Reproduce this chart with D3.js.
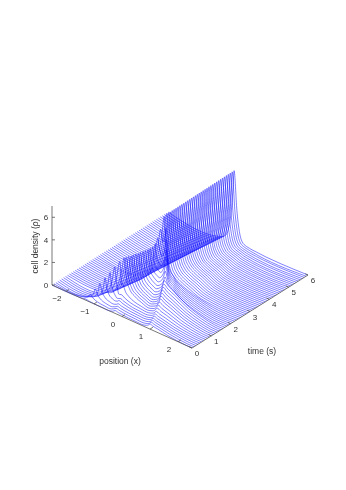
<!DOCTYPE html>
<html>
<head>
<meta charset="utf-8">
<script src="https://cdn.jsdelivr.net/npm/d3@7"></script>
<style>
  html, body { margin: 0; padding: 0; background: #fff; }
  svg { display: block; will-change: transform; }
  text { font-family: "Liberation Sans", Arial, sans-serif; fill: #333; }
</style>
</head>
<body>
<div id="chart"></div>
<script>
// tick labels
const xTicks = [-2, -1, 0, 1, 2];
const timeTicks = [0, 1, 2, 3, 4, 5, 6];
const densityTicks = [0, 2, 4, 6];

// one time value per drawn slice
const sliceTimes = [0, .1, .2, .3, .4, .5, .6, .7, .8, .9, 1, 1.1, 1.2, 1.3, 1.4, 1.5, 1.6, 1.7, 1.8, 1.9,
  2, 2.1, 2.2, 2.3, 2.4, 2.5, 2.6, 2.7, 2.8, 2.9, 3, 3.1, 3.2, 3.3, 3.4, 3.5, 3.6, 3.7, 3.8, 3.9,
  4, 4.1, 4.2, 4.3, 4.4, 4.5, 4.6, 4.7, 4.8, 4.9, 5, 5.1, 5.2, 5.3, 5.4, 5.5, 5.6, 5.7, 5.8, 5.9, 6];

const sliceProfiles = [
  [-2.5,0,-1.57,0,-1.45,.02,-1.37,.06,-1.32,.1,-1.19,.05,-1.01,.02,-.74,.01,-.43,.01,-.33,.1,-.25,.25,-.13,.2,0,.17,.22,.13,.5,.11,.75,.1,.88,.2,.95,.32,1,.45,1.1,.38,1.28,.31,1.63,.14,1.95,.05,2.26,0,2.5,0],
  [-2.5,0,-1.47,0,-1.34,.1,-1.26,.28,-1.21,.5,-1.09,.27,-.94,.12,-.71,.06,-.45,.06,-.36,.17,-.28,.3,-.16,.25,-.03,.2,.17,.16,.42,.13,.72,.12,.845,.21,.92,.33,.97,.47,1.08,.4,1.26,.32,1.62,.15,1.94,.05,2.27,0,2.5,0],
  [-2.5,0,-1.37,0,-1.24,.2,-1.15,.55,-1.1,1,-1,.54,-.87,.26,-.68,.13,-.47,.12,-.38,.22,-.31,.35,-.19,.29,-.06,.24,.14,.19,.39,.16,.69,.15,.815,.24,.89,.36,.94,.5,1.05,.43,1.24,.34,1.61,.16,1.94,.06,2.27,0,2.5,0],
  [-2.5,0,-1.26,0,-1.13,.3,-1.05,.82,-1,1.5,-.92,.84,-.81,.44,-.65,.26,-.49,.22,-.41,.3,-.35,.42,-.23,.35,-.1,.29,.1,.23,.35,.19,.65,.18,.775,.27,.85,.39,.9,.53,1.01,.45,1.2,.36,1.58,.16,1.93,.06,2.27,0,2.5,0],
  [-2.5,0,-1.2,0,-1.04,.4,-.94,1.1,-.88,2,-.82,1.18,-.74,.68,-.61,.45,-.5,.38,-.43,.45,-.39,.55,-.27,.45,-.14,.36,.06,.28,.31,.22,.61,.2,.74,.29,.82,.42,.87,.57,.99,.48,1.18,.39,1.57,.18,1.92,.06,2.27,0,2.5,0],
  [-2.5,0,-1.19,0,-.98,.5,-.85,1.38,-.77,2.5,-.73,1.6,-.67,1.06,-.58,.65,-.52,.5,-.46,.54,-.41,.6,-.29,.5,-.16,.41,.03,.3,.27,.26,.57,.24,.7,.34,.78,.47,.83,.62,.95,.53,1.15,.42,1.55,.19,1.91,.07,2.27,0,2.5,0],
  [-2.5,0,-1.18,0,-.92,.6,-.77,1.65,-.67,3,-.64,2.25,-.6,1.5,-.56,1,-.53,.75,-.49,.76,-.44,.8,-.32,.64,-.2,.51,0,.39,.24,.32,.53,.28,.665,.39,.75,.54,.8,.72,.92,.61,1.13,.49,1.54,.22,1.91,.08,2.28,0,2.5,0],
  [-2.5,0,-1.17,0,-.86,.7,-.68,1.93,-.56,3.5,-.52,2.3,-.5,1.5,-.47,1.6,-.35,1,-.23,.73,-.04,.5,.2,.38,.49,.32,.63,.45,.71,.64,.77,.85,.9,.72,1.11,.58,1.53,.26,1.9,.09,2.28,0,2.5,0],
  [-2.5,0,-1.156,0,-.98,.15,-.82,.53,-.66,1.52,-.55,2.77,-.48,3.8,-.39,2.01,-.28,1.25,-.09,.81,.15,.53,.45,.36,.595,.51,.68,.73,.74,.97,.87,.82,1.08,.66,1.51,.3,1.9,.11,2.29,0,2.5,0],
  [-2.5,0,-1.145,0,-.97,.15,-.81,.53,-.65,1.5,-.54,2.74,-.47,3.75,-.38,2.01,-.28,1.27,-.1,.84,.13,.57,.41,.4,.56,.58,.65,.82,.71,1.1,.84,.94,1.06,.75,1.5,.34,1.9,.12,2.29,0,2.5,0],
  [-2.5,0,-1.133,0,-.955,.15,-.79,.53,-.63,1.5,-.52,2.74,-.45,3.75,-.37,2.03,-.27,1.3,-.11,.87,.11,.61,.37,.44,.525,.64,.62,.91,.68,1.23,.82,1.05,1.04,.84,1.49,.38,1.9,.14,2.3,0,2.5,0],
  [-2.5,0,-1.121,0,-.94,.15,-.775,.52,-.61,1.48,-.5,2.7,-.43,3.7,-.35,2.03,-.26,1.32,-.11,.9,.09,.64,.33,.48,.48,.69,.57,.99,.63,1.33,.77,1.13,1,.9,1.46,.41,1.87,.15,2.29,0,2.5,0],
  [-2.5,0,-1.11,0,-.93,.15,-.765,.52,-.6,1.48,-.49,2.7,-.42,3.7,-.35,2.05,-.26,1.35,-.12,.93,.06,.68,.29,.52,.44,.75,.53,1.07,.59,1.43,.73,1.22,.97,.97,1.44,.44,1.86,.16,2.28,0,2.5,0],
  [-2.5,0,-1.098,0,-.92,.15,-.75,.52,-.58,1.48,-.47,2.7,-.4,3.7,-.34,2.08,-.26,1.39,-.13,.99,.04,.74,.25,.58,.4,.82,.48,1.16,.54,1.55,.68,1.32,.92,1.05,1.4,.48,1.84,.17,2.27,0,2.5,0],
  [-2.5,0,-1.086,0,-.9,.15,-.73,.51,-.56,1.46,-.45,2.66,-.38,3.65,-.32,2.09,-.25,1.43,-.13,1.04,.02,.8,.21,.65,.355,.9,.44,1.25,.5,1.65,.65,1.4,.89,1.12,1.38,.51,1.82,.18,2.26,0,2.5,0],
  [-2.5,0,-1.075,0,-.89,.15,-.72,.51,-.55,1.46,-.44,2.66,-.37,3.65,-.32,2.14,-.25,1.5,-.14,1.13,0,.9,.17,.75,.31,1,.39,1.36,.45,1.76,.6,1.5,.85,1.2,1.35,.55,1.8,.19,2.25,0,2.5,0],
  [-2.5,0,-1.063,0,-.88,.15,-.71,.51,-.53,1.46,-.42,2.66,-.35,3.65,-.3,2.21,-.24,1.6,-.15,1.24,-.02,1.02,.13,.88,.265,1.14,.35,1.49,.4,1.9,.55,1.6,.8,1.25,1.3,.55,1.75,.2,2.2,0,2.5,0],
  [-2.5,0,-1.051,0,-.86,.15,-.69,.51,-.52,1.46,-.4,2.66,-.33,3.65,-.29,2.28,-.24,1.7,-.15,1.36,-.04,1.15,.1,1.02,.23,1.28,.31,1.65,.36,2.07,.46,1.6,.66,1.25,.86,.85,1.16,.52,1.61,.2,2.06,0,2.5,0],
  [-2.5,0,-1.039,0,-.85,.15,-.67,.51,-.5,1.46,-.38,2.66,-.31,3.65,-.27,2.38,-.23,1.84,-.15,1.52,-.06,1.32,.06,1.2,.18,1.5,.25,1.92,.3,2.4,.4,1.7,.6,1.25,.8,.85,1.1,.52,1.55,.2,2,0,2.5,0],
  [-2.5,0,-1.028,0,-.84,.15,-.66,.51,-.49,1.46,-.37,2.66,-.3,3.65,-.27,2.5,-.23,2,-.16,1.7,-.07,1.53,.03,1.42,.135,1.77,.2,2.25,.24,2.8,.34,1.75,.54,1.25,.74,.85,1.04,.52,1.49,.2,1.94,0,2.5,0],
  [-2.5,0,-1.016,0,-.825,.15,-.65,.52,-.47,1.48,-.35,2.7,-.28,3.7,-.25,2.7,-.22,2.25,-.16,2,-.09,1.85,0,1.75,.09,2.14,.144,2.68,.18,3.3,.28,1.8,.48,1.25,.68,.85,.98,.52,1.43,.2,1.88,0,2.5,0],
  [-2.5,0,-1.004,0,-.81,.16,-.63,.55,-.45,1.56,-.33,2.85,-.26,3.9,-.24,3.1,-.21,2.7,-.16,2.4,-.04,2.2,.04,2.6,.09,3.16,.12,3.8,.22,1.85,.42,1.25,.62,.85,.92,.52,1.37,.2,1.8,0,2.5,0],
  [-2.5,0,-.993,0,-.8,.17,-.62,.6,-.43,1.72,-.32,3.14,-.24,4.3,-.2,3.6,-.14,3.1,-.08,2.9,-.015,3.3,.02,3.9,.05,4.5,.15,1.9,.35,1.25,.55,.85,.85,.52,1.3,.2,1.7,0,2.5,0],
  [-2.5,0,-.981,0,-.78,.2,-.6,.7,-.41,2,-.29,3.65,-.21,5,-.12,4,-.07,4.4,-.04,4.8,-.02,5.3,.08,2.4,.28,1.25,.48,.85,.78,.52,1.23,.2,1.65,0,2.5,0],
  [-2.5,0,-.969,0,-.75,.24,-.56,.85,-.37,2.44,-.23,4.45,-.15,6.1,-.07,3,.03,1.7,.17,1.23,.37,.85,.67,.52,1.12,.2,1.57,0,2.5,0],
  [-2.5,0,-.958,0,-.745,.25,-.549,.88,-.353,2.5,-.222,4.56,-.14,6.2,-.04,3,.06,1.7,.16,1.23,.36,.85,.66,.52,1,.17,1.45,0,2.5,0],
  [-2.5,0,-.946,0,-.736,.25,-.543,.88,-.35,2.5,-.221,4.56,-.14,6.2,-.04,3,.06,1.7,.16,1.23,.36,.85,.66,.52,.99,.17,1.43,0,2.5,0],
  [-2.5,0,-.934,0,-.727,.25,-.537,.88,-.347,2.5,-.219,4.56,-.14,6.2,-.04,3,.06,1.7,.16,1.23,.36,.85,.66,.52,.99,.16,1.41,0,2.5,0],
  [-2.5,0,-.922,0,-.718,.25,-.531,.88,-.344,2.5,-.218,4.56,-.14,6.21,-.04,3,.06,1.7,.16,1.23,.36,.85,.66,.52,.98,.16,1.39,0,2.5,0],
  [-2.5,0,-.911,0,-.71,.25,-.526,.88,-.341,2.5,-.217,4.56,-.14,6.21,-.04,3,.06,1.7,.16,1.23,.36,.85,.66,.52,.98,.16,1.37,0,2.5,0],
  [-2.5,0,-.899,0,-.701,.25,-.52,.88,-.338,2.5,-.216,4.56,-.14,6.21,-.04,3,.06,1.7,.16,1.23,.36,.85,.66,.52,.97,.15,1.35,0,2.5,0],
  [-2.5,0,-.887,0,-.692,.25,-.514,.88,-.335,2.5,-.215,4.56,-.14,6.22,-.04,3,.06,1.7,.16,1.23,.36,.85,.66,.52,.97,.15,1.34,0,2.5,0],
  [-2.5,0,-.876,0,-.684,.25,-.508,.88,-.332,2.5,-.214,4.56,-.14,6.22,-.04,3,.06,1.7,.16,1.23,.36,.85,.66,.52,.96,.15,1.32,0,2.5,0],
  [-2.5,0,-.864,0,-.675,.25,-.502,.88,-.329,2.5,-.212,4.56,-.14,6.22,-.04,3,.06,1.7,.16,1.23,.36,.85,.66,.52,.96,.15,1.31,0,2.5,0],
  [-2.5,0,-.852,0,-.666,.25,-.496,.88,-.326,2.5,-.211,4.56,-.14,6.22,-.04,3,.06,1.68,.16,1.19,.36,.82,.65,.5,.94,.14,1.28,0,2.5,0],
  [-2.5,0,-.841,0,-.658,.25,-.491,.88,-.323,2.5,-.21,4.56,-.14,6.23,-.04,3,.06,1.66,.16,1.17,.36,.8,.64,.49,.92,.14,1.25,0,2.5,0],
  [-2.5,0,-.829,0,-.649,.25,-.485,.88,-.32,2.5,-.209,4.56,-.14,6.23,-.04,3,.06,1.63,.16,1.13,.35,.77,.63,.47,.91,.13,1.22,0,2.5,0],
  [-2.5,0,-.817,0,-.641,.25,-.479,.88,-.316,2.5,-.208,4.56,-.14,6.23,-.04,3,.06,1.61,.16,1.1,.35,.73,.62,.45,.89,.13,1.19,0,2.5,0],
  [-2.5,0,-.805,0,-.632,.25,-.473,.88,-.313,2.5,-.207,4.56,-.14,6.24,-.04,3,.06,1.59,.16,1.06,.35,.7,.61,.43,.87,.12,1.16,0,2.5,0],
  [-2.5,0,-.794,0,-.624,.25,-.467,.88,-.31,2.5,-.205,4.56,-.14,6.24,-.04,3,.06,1.57,.16,1.04,.35,.68,.61,.41,.85,.12,1.13,0,2.5,0],
  [-2.5,0,-.782,0,-.615,.25,-.461,.88,-.307,2.5,-.204,4.56,-.14,6.24,-.04,3,.06,1.54,.15,1,.34,.65,.6,.39,.83,.11,1.1,0,2.5,0],
  [-2.5,0,-.77,0,-.606,.25,-.455,.88,-.304,2.5,-.203,4.56,-.14,6.25,-.04,3,.06,1.52,.15,.97,.34,.62,.59,.37,.81,.11,1.07,0,2.5,0],
  [-2.5,0,-.759,0,-.598,.25,-.45,.88,-.301,2.5,-.202,4.56,-.14,6.25,-.04,3,.06,1.5,.15,.94,.34,.6,.58,.36,.8,.1,1.04,0,2.5,0],
  [-2.5,0,-.747,0,-.589,.25,-.444,.88,-.298,2.5,-.201,4.56,-.14,6.25,-.04,3,.06,1.48,.15,.9,.34,.57,.57,.34,.78,.1,1.01,0,2.5,0],
  [-2.5,0,-.735,0,-.58,.25,-.438,.88,-.295,2.5,-.2,4.56,-.14,6.26,-.04,3,.06,1.45,.15,.87,.34,.53,.56,.32,.76,.09,.98,0,2.5,0],
  [-2.5,0,-.724,0,-.572,.25,-.432,.88,-.292,2.5,-.198,4.56,-.14,6.26,-.04,3,.06,1.44,.15,.84,.33,.51,.55,.3,.74,.09,.95,0,2.5,0],
  [-2.5,0,-.712,0,-.563,.25,-.426,.88,-.289,2.5,-.197,4.56,-.14,6.26,-.04,3,.06,1.41,.15,.81,.33,.48,.54,.28,.72,.08,.92,0,2.5,0],
  [-2.5,0,-.7,0,-.554,.25,-.42,.88,-.286,2.5,-.196,4.56,-.14,6.27,-.04,3,.05,1.39,.15,.77,.33,.45,.53,.27,.7,.08,.89,0,2.5,0],
  [-2.5,0,-.688,0,-.545,.25,-.414,.88,-.283,2.5,-.195,4.56,-.14,6.27,-.04,3,.05,1.36,.15,.74,.33,.42,.52,.25,.68,.07,.86,0,2.5,0],
  [-2.5,0,-.677,0,-.537,.25,-.409,.88,-.28,2.5,-.194,4.56,-.14,6.27,-.04,3,.05,1.35,.15,.71,.32,.4,.51,.23,.67,.07,.83,0,2.5,0],
  [-2.5,0,-.665,0,-.528,.25,-.403,.88,-.277,2.5,-.193,4.56,-.14,6.28,-.04,3,.05,1.32,.15,.68,.32,.36,.5,.21,.65,.06,.8,0,2.5,0],
  [-2.5,0,-.653,0,-.519,.25,-.397,.88,-.274,2.5,-.191,4.56,-.14,6.28,-.04,2.95,.05,1.3,.15,.64,.32,.33,.49,.19,.63,.06,.77,0,2.5,0],
  [-2.5,0,-.642,0,-.511,.25,-.391,.88,-.271,2.5,-.19,4.56,-.14,6.28,-.04,2.95,.05,1.28,.15,.61,.32,.31,.485,.18,.61,.05,.74,0,2.5,0],
  [-2.5,0,-.63,0,-.502,.25,-.385,.88,-.268,2.5,-.189,4.56,-.14,6.29,-.04,2.95,.05,1.26,.15,.58,.32,.28,.475,.16,.59,.05,.71,0,2.5,0],
  [-2.5,0,-.618,0,-.493,.25,-.379,.88,-.265,2.5,-.188,4.56,-.14,6.29,-.04,2.95,.05,1.23,.14,.54,.31,.25,.465,.14,.57,.04,.68,0,2.5,0],
  [-2.5,0,-.607,0,-.485,.25,-.374,.88,-.262,2.5,-.187,4.56,-.14,6.29,-.04,2.9,.05,1.21,.14,.52,.31,.23,.46,.12,.555,.04,.65,0,2.5,0],
  [-2.5,0,-.595,0,-.476,.25,-.368,.88,-.259,2.5,-.186,4.56,-.14,6.3,-.04,2.9,.05,1.19,.14,.48,.31,.2,.45,.1,.535,.03,.62,0,2.5,0],
  [-2.5,0,-.583,0,-.467,.25,-.362,.88,-.256,2.5,-.184,4.56,-.14,6.3,-.04,2.9,.05,1.17,.14,.45,.31,.16,.44,.08,.515,.03,.59,0,2.5,0],
  [-2.5,0,-.571,0,-.459,.25,-.356,.88,-.252,2.5,-.183,4.56,-.14,6.3,-.04,2.9,.05,1.14,.14,.41,.3,.13,.43,.06,.495,.02,.56,0,2.5,0],
  [-2.5,0,-.56,0,-.45,.25,-.35,.88,-.25,2.5,-.182,4.56,-.14,6.3,-.04,2.9,.05,1.12,.14,.39,.3,.11,.42,.05,.48,.02,.53,0,2.5,0],
  [-2.5,0,-.548,0,-.441,.25,-.344,.88,-.246,2.5,-.181,4.56,-.14,6.3,-.04,2.9,.05,1.1,.14,.35,.3,.08,.41,.03,.46,.01,.5,0,2.5,0]
];

const width = 346, height = 490;
const originX = 52, originY = 285;

const svg = d3.select("#chart").append("svg")
  .attr("width", width)
  .attr("height", height);

// oblique projection: each data axis gets a screen scale for x and for y
const xToPx = d3.scaleLinear().domain([-2.5, 2.5]).range([0, 140]);
const xToPy = d3.scaleLinear().domain([-2.5, 2.5]).range([0, 63]);
const tToPx = d3.scaleLinear().domain([0, 6]).range([0, 116]);
const tToPy = d3.scaleLinear().domain([0, 6]).range([0, -73]);
const zToPy = d3.scaleLinear().domain([0, 7]).range([0, -79]);

const px = (x, t) => originX + xToPx(x) + tToPx(t);
const py = (x, t, z) => originY + xToPy(x) + tToPy(t) + zToPy(z);

const axisColor = "#555";

// surface slices
const line = d3.line()
  .x(d => px(d[0], d[2]))
  .y(d => py(d[0], d[2], d[1]))
  .curve(d3.curveMonotoneX);

svg.append("g")
  .selectAll("path")
  .data(sliceProfiles)
  .join("path")
  .attr("fill", "none")
  .attr("stroke", "#0000ff")
  .attr("stroke-width", 0.5)
  .attr("d", (row, i) => {
    const pts = [];
    for (let k = 0; k < row.length; k += 2) pts.push([row[k], row[k + 1], sliceTimes[i]]);
    return line(pts);
  });

// axes
const axes = svg.append("g").attr("stroke", axisColor).attr("stroke-width", 0.8);
axes.append("line").attr("x1", px(-2.5, 0)).attr("y1", py(-2.5, 0, 0)).attr("x2", px(2.5, 0)).attr("y2", py(2.5, 0, 0));
axes.append("line").attr("x1", px(2.5, 0)).attr("y1", py(2.5, 0, 0)).attr("x2", px(2.5, 6)).attr("y2", py(2.5, 6, 0));
axes.append("line").attr("x1", px(-2.5, 0)).attr("y1", py(-2.5, 0, 0)).attr("x2", px(-2.5, 0)).attr("y2", py(-2.5, 0, 7));

xTicks.forEach(v => {
  axes.append("line")
    .attr("x1", px(v, 0)).attr("y1", py(v, 0, 0))
    .attr("x2", px(v, 0.15)).attr("y2", py(v, 0.15, 0));
  svg.append("text")
    .attr("x", px(v, 0) - 9).attr("y", py(v, 0, 0) + 10)
    .attr("text-anchor", "middle").attr("font-size", 8)
    .text(v < 0 ? "\u2212" + Math.abs(v) : v);
});

timeTicks.forEach(v => {
  axes.append("line")
    .attr("x1", px(2.5, v)).attr("y1", py(2.5, v, 0))
    .attr("x2", px(2.4, v)).attr("y2", py(2.4, v, 0));
  svg.append("text")
    .attr("x", px(2.5, v) + 5).attr("y", py(2.5, v, 0) + 8)
    .attr("text-anchor", "middle").attr("font-size", 8)
    .text(v);
});

densityTicks.forEach(v => {
  axes.append("line")
    .attr("x1", px(-2.5, 0)).attr("y1", py(-2.5, 0, v))
    .attr("x2", px(-2.5, 0) + 3).attr("y2", py(-2.5, 0, v));
  svg.append("text")
    .attr("x", px(-2.5, 0) - 6).attr("y", py(-2.5, 0, v) + 3)
    .attr("text-anchor", "middle").attr("font-size", 8)
    .text(v);
});

// axis titles
svg.append("text").attr("x", 120).attr("y", 364).attr("text-anchor", "middle").attr("font-size", 8.5).text("position (x)");
svg.append("text").attr("x", 262).attr("y", 354).attr("text-anchor", "middle").attr("font-size", 8.5).text("time (s)");
svg.append("text")
  .attr("text-anchor", "middle").attr("font-size", 8.5)
  .attr("transform", "translate(38,246) rotate(-90)")
  .text("cell density (\u03c1)");
</script>
</body>
</html>
